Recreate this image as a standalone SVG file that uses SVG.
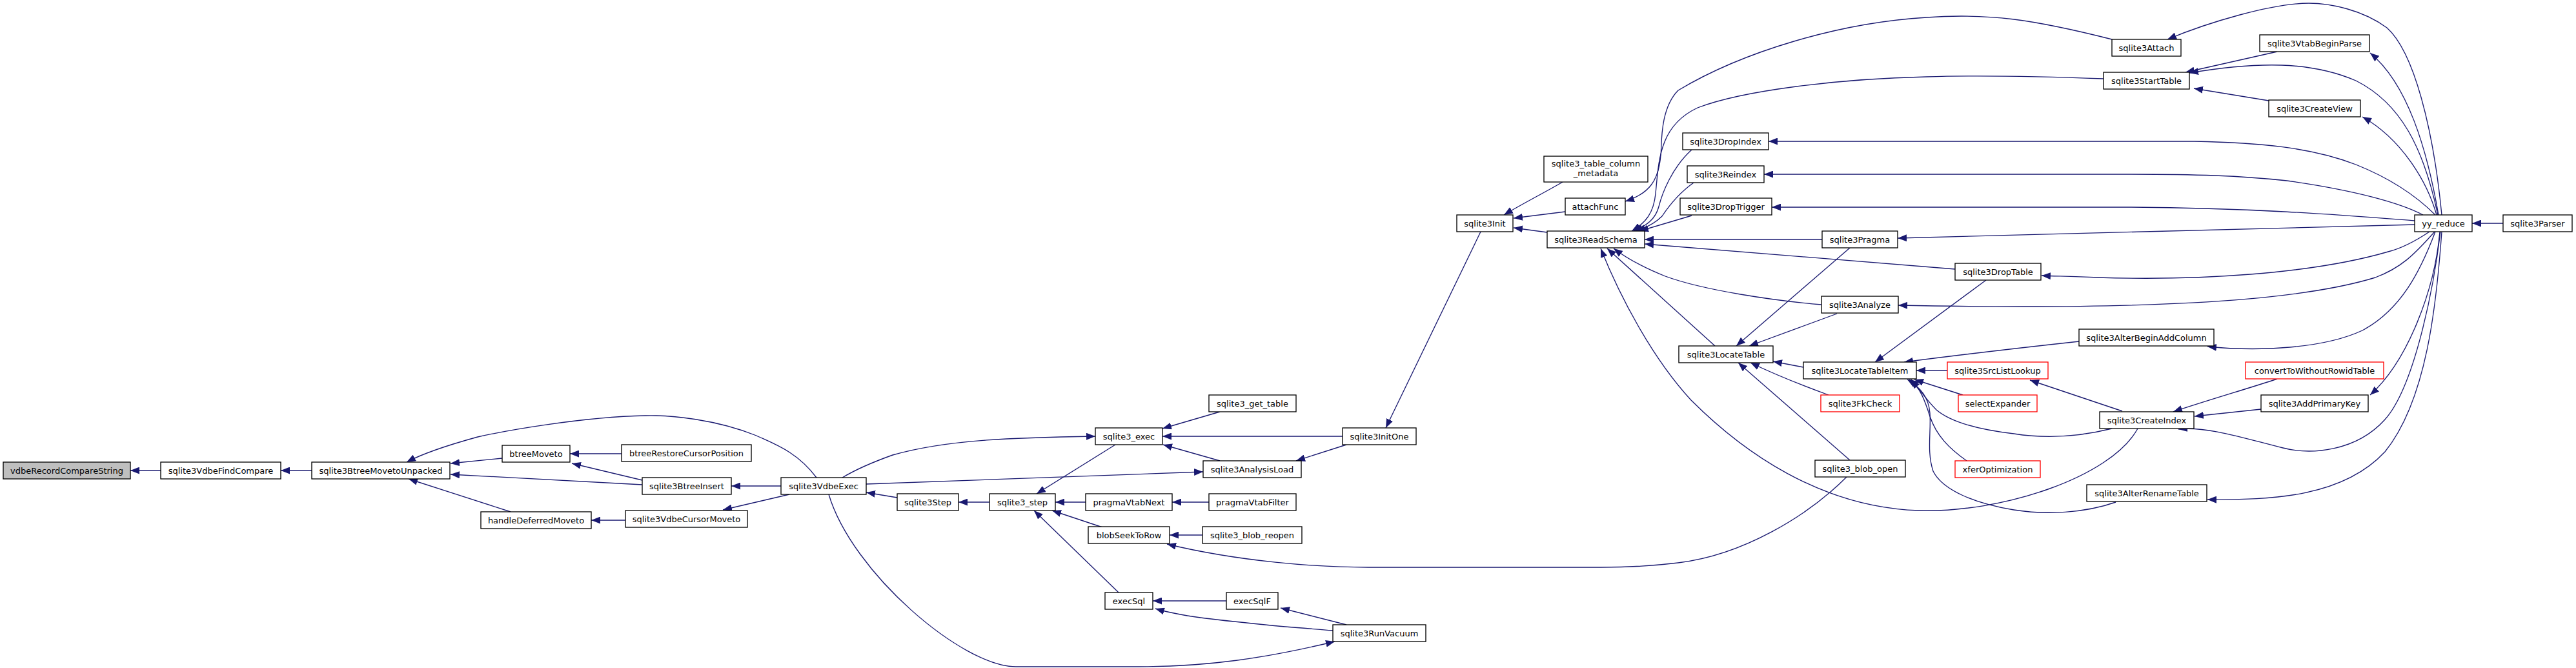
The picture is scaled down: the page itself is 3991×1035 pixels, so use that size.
<svg xmlns="http://www.w3.org/2000/svg" width="3991" height="1035" viewBox="0 0 3991 1035">
<style>
.n rect{fill:#fff;stroke:#000;stroke-width:1.33}
.n.r rect{stroke:#ff0000}
.n.g rect{fill:#bfbfbf}
.n text{font-family:"DejaVu Sans","Liberation Sans",sans-serif;font-size:13px;text-anchor:middle;fill:#000}
.e path{fill:none;stroke:#191970;stroke-width:1.33;marker-end:url(#a)}
</style>
<defs>
<marker id="a" markerUnits="userSpaceOnUse" markerWidth="14" markerHeight="11" refX="14" refY="5.5" orient="auto" viewBox="0 0 14 11"><path d="M0,0 L14,5.5 L0,11 z" fill="#191970"/></marker>
</defs>
<rect width="3991" height="1035" fill="#fff"/>
<g id="edges" class="e">
<path d="M249,729 L202,729"/>
<path d="M483,729 L435,729"/>
<path d="M778,710 L698,718"/>
<path d="M995,751 L698,735"/>
<path d="M791,793 L633,742"/>
<path d="M1265,740 C1235,700 1200,688 1172,675 C1110,650 1040,643 1000,644 C900,646 780,668 740,677 C700,688 660,700 630,716"/>
<path d="M963,703 L883,703"/>
<path d="M995,744 L886,718"/>
<path d="M969,806 L916,806"/>
<path d="M1210,753 L1133,753"/>
<path d="M1223,766 L1120,790"/>
<path d="M1390,771 L1342,763"/>
<path d="M1533,778 L1485,778"/>
<path d="M1305,740 C1330,725 1355,715 1383,705 C1470,680 1580,678 1697,676"/>
<path d="M1342,750 L1864,731"/>
<path d="M1728,689 L1606,765"/>
<path d="M1682,778 L1635,778"/>
<path d="M1708,817 L1630,791"/>
<path d="M1734,919 L1602,791"/>
<path d="M1890,638 L1801,664"/>
<path d="M2080,676 L1801,676"/>
<path d="M1890,714 L1802,689"/>
<path d="M2086,689 L2008,714"/>
<path d="M1873,778 L1816,778"/>
<path d="M1863,829 L1812,829"/>
<path d="M2861,739 C2800,800 2700,860 2600,872 C2560,877 2520,879 2480,879 L2120,879 C2040,879 1920,870 1808,843"/>
<path d="M1900,931 L1786,931"/>
<path d="M2065,977 C2030,974 2000,972 1960,968 C1880,960 1830,955 1790,943"/>
<path d="M2086,968 L1984,942"/>
<path d="M1284,766 C1320,887 1491,1033 1574,1033 L1765,1033 C1870,1033 1960,1020 2068,994"/>
<path d="M2294,359 L2147,663"/>
<path d="M2421,282 C2390,300 2360,315 2330,333"/>
<path d="M2425,328 L2345,338"/>
<path d="M2397,360 L2345,353"/>
<path d="M3272,61 C3150,30 3080,20 2985,27 C2850,35 2700,80 2600,140 C2570,170 2575,230 2573,240 C2570,280 2555,300 2518,312"/>
<path d="M3259,122 C3150,118 3050,117 2985,119 C2850,122 2700,140 2630,167 C2570,195 2570,250 2565,300 C2562,330 2550,345 2528,358"/>
<path d="M2621,232 C2590,260 2575,300 2570,320 C2565,340 2550,350 2531,358"/>
<path d="M2624,283 C2600,300 2585,320 2575,335 C2565,345 2550,353 2535,358"/>
<path d="M2621,334 L2540,358"/>
<path d="M2823,371 L2548,371"/>
<path d="M3029,417 L2548,378"/>
<path d="M2822,472 C2750,466 2640,450 2580,428 C2545,414 2520,400 2500,385"/>
<path d="M2657,536 L2490,385"/>
<path d="M3312,664 C3270,740 3100,795 2973,791 C2820,786 2700,700 2620,620 C2560,555 2510,460 2480,385"/>
<path d="M2794,569 L2747,560"/>
<path d="M2866,384 L2690,536"/>
<path d="M2846,486 L2710,536"/>
<path d="M2833,612 C2800,600 2760,585 2712,562"/>
<path d="M2866,713 L2693,562"/>
<path d="M3077,434 L2905,561"/>
<path d="M3221,529 C3120,540 3050,548 2950,561"/>
<path d="M3017,574 L2969,574"/>
<path d="M3041,612 L2966,588"/>
<path d="M3047,714 C3020,695 3000,675 2990,645 C2982,620 2975,600 2958,588"/>
<path d="M3272,664 C3220,677 3170,680 3120,672 C3060,665 3020,652 3000,635 C2985,620 2975,605 2961,588"/>
<path d="M3278,778 C3230,795 3170,798 3120,790 C3060,780 3010,760 2995,730 C2985,700 2992,670 2990,640 C2988,615 2975,600 2955,588"/>
<path d="M3288,637 L3145,589"/>
<path d="M3528,587 C3490,600 3420,620 3367,638"/>
<path d="M3503,634 L3400,645"/>
<path d="M3781,359 C3770,450 3740,600 3695,650 C3650,700 3580,705 3537,694 C3480,680 3420,660 3375,665"/>
<path d="M3780,359 C3772,450 3730,560 3672,612"/>
<path d="M3783,359 C3775,470 3760,620 3695,700 C3630,770 3520,775 3420,774"/>
<path d="M3773,359 C3750,420 3720,480 3660,512 C3600,540 3500,545 3420,537"/>
<path d="M3772,359 C3740,395 3720,415 3680,430 C3550,470 3300,480 2941,473"/>
<path d="M3764,359 C3740,375 3720,385 3700,390 C3580,425 3400,435 3250,430 C3210,428 3185,428 3163,427"/>
<path d="M3741,348 L2940,369"/>
<path d="M3741,342 C3650,335 3500,322 3300,321 L2745,321"/>
<path d="M3754,333 C3720,315 3650,295 3543,280 C3470,272 3400,270 3300,270 L2733,270"/>
<path d="M3773,333 C3740,300 3700,275 3650,255 C3580,228 3500,221 3400,219 L2740,219"/>
<path d="M3775,333 C3760,280 3720,215 3660,181"/>
<path d="M3778,333 C3760,230 3730,130 3672,82"/>
<path d="M3777,333 C3755,230 3720,160 3650,125 C3580,95 3500,95 3392,113"/>
<path d="M3528,80 L3386,112"/>
<path d="M3515,156 L3399,137"/>
<path d="M3783,333 C3770,200 3740,80 3698,43 C3660,15 3610,5 3577,5 C3520,5 3420,35 3358,61"/>
<path d="M3878,346 L3830,346"/>
</g>
<g id="vdbeRecordCompareString" class="n g"><rect x="5" y="716" width="197" height="26"/><text x="103.5" y="733.5">vdbeRecordCompareString</text></g>
<g id="sqlite3VdbeFindCompare" class="n"><rect x="249" y="716" width="186" height="26"/><text x="342" y="733.5">sqlite3VdbeFindCompare</text></g>
<g id="sqlite3BtreeMovetoUnpacked" class="n"><rect x="483" y="716" width="214" height="26"/><text x="590" y="733.5">sqlite3BtreeMovetoUnpacked</text></g>
<g id="btreeMoveto" class="n"><rect x="778" y="690" width="105" height="26"/><text x="830.5" y="707.5">btreeMoveto</text></g>
<g id="handleDeferredMoveto" class="n"><rect x="745" y="793" width="171" height="26"/><text x="830.5" y="810.5">handleDeferredMoveto</text></g>
<g id="btreeRestoreCursorPosition" class="n"><rect x="963" y="689" width="201" height="26"/><text x="1063.5" y="706.5">btreeRestoreCursorPosition</text></g>
<g id="sqlite3BtreeInsert" class="n"><rect x="995" y="740" width="138" height="26"/><text x="1064" y="757.5">sqlite3BtreeInsert</text></g>
<g id="sqlite3VdbeCursorMoveto" class="n"><rect x="969" y="791" width="189" height="26"/><text x="1063.5" y="808.5">sqlite3VdbeCursorMoveto</text></g>
<g id="sqlite3VdbeExec" class="n"><rect x="1210" y="740" width="132" height="26"/><text x="1276" y="757.5">sqlite3VdbeExec</text></g>
<g id="sqlite3Step" class="n"><rect x="1390" y="765" width="95" height="26"/><text x="1437.5" y="782.5">sqlite3Step</text></g>
<g id="sqlite3_step" class="n"><rect x="1533" y="765" width="102" height="26"/><text x="1584" y="782.5">sqlite3_step</text></g>
<g id="sqlite3_exec" class="n"><rect x="1697" y="663" width="104" height="26"/><text x="1749" y="680.5">sqlite3_exec</text></g>
<g id="sqlite3_get_table" class="n"><rect x="1873" y="612" width="135" height="26"/><text x="1940.5" y="629.5">sqlite3_get_table</text></g>
<g id="sqlite3AnalysisLoad" class="n"><rect x="1864" y="714" width="152" height="26"/><text x="1940" y="731.5">sqlite3AnalysisLoad</text></g>
<g id="pragmaVtabNext" class="n"><rect x="1682" y="765" width="134" height="26"/><text x="1749" y="782.5">pragmaVtabNext</text></g>
<g id="pragmaVtabFilter" class="n"><rect x="1873" y="765" width="135" height="26"/><text x="1940.5" y="782.5">pragmaVtabFilter</text></g>
<g id="blobSeekToRow" class="n"><rect x="1686" y="816" width="126" height="26"/><text x="1749" y="833.5">blobSeekToRow</text></g>
<g id="sqlite3_blob_reopen" class="n"><rect x="1863" y="816" width="154" height="26"/><text x="1940" y="833.5">sqlite3_blob_reopen</text></g>
<g id="execSql" class="n"><rect x="1712" y="918" width="74" height="26"/><text x="1749" y="935.5">execSql</text></g>
<g id="execSqlF" class="n"><rect x="1900" y="918" width="80" height="26"/><text x="1940" y="935.5">execSqlF</text></g>
<g id="sqlite3RunVacuum" class="n"><rect x="2065" y="968" width="144" height="26"/><text x="2137" y="985.5">sqlite3RunVacuum</text></g>
<g id="sqlite3InitOne" class="n"><rect x="2080" y="663" width="114" height="26"/><text x="2137" y="680.5">sqlite3InitOne</text></g>
<g id="sqlite3Init" class="n"><rect x="2257" y="333" width="87" height="26"/><text x="2300.5" y="350.5">sqlite3Init</text></g>
<g id="sqlite3_table_column_metadata" class="n"><rect x="2392" y="242" width="161" height="40"/><text x="2472.5" y="258">sqlite3_table_column</text><text x="2472.5" y="273">_metadata</text></g>
<g id="attachFunc" class="n"><rect x="2425" y="307" width="93" height="26"/><text x="2471.5" y="324.5">attachFunc</text></g>
<g id="sqlite3ReadSchema" class="n"><rect x="2397" y="358" width="151" height="26"/><text x="2472.5" y="375.5">sqlite3ReadSchema</text></g>
<g id="sqlite3Attach" class="n"><rect x="3272" y="61" width="107" height="26"/><text x="3325.5" y="78.5">sqlite3Attach</text></g>
<g id="sqlite3StartTable" class="n"><rect x="3259" y="112" width="133" height="26"/><text x="3325.5" y="129.5">sqlite3StartTable</text></g>
<g id="sqlite3DropIndex" class="n"><rect x="2607" y="206" width="133" height="26"/><text x="2673.5" y="223.5">sqlite3DropIndex</text></g>
<g id="sqlite3Reindex" class="n"><rect x="2614" y="257" width="119" height="26"/><text x="2673.5" y="274.5">sqlite3Reindex</text></g>
<g id="sqlite3DropTrigger" class="n"><rect x="2603" y="307" width="142" height="26"/><text x="2674" y="324.5">sqlite3DropTrigger</text></g>
<g id="sqlite3Pragma" class="n"><rect x="2823" y="358" width="117" height="26"/><text x="2881.5" y="375.5">sqlite3Pragma</text></g>
<g id="sqlite3DropTable" class="n"><rect x="3029" y="408" width="133" height="26"/><text x="3095.5" y="425.5">sqlite3DropTable</text></g>
<g id="sqlite3Analyze" class="n"><rect x="2822" y="459" width="119" height="26"/><text x="2881.5" y="476.5">sqlite3Analyze</text></g>
<g id="sqlite3LocateTable" class="n"><rect x="2601" y="536" width="146" height="26"/><text x="2674" y="553.5">sqlite3LocateTable</text></g>
<g id="sqlite3LocateTableItem" class="n"><rect x="2794" y="561" width="175" height="26"/><text x="2881.5" y="578.5">sqlite3LocateTableItem</text></g>
<g id="sqlite3FkCheck" class="n r"><rect x="2821" y="612" width="122" height="26"/><text x="2882" y="629.5">sqlite3FkCheck</text></g>
<g id="sqlite3_blob_open" class="n"><rect x="2812" y="713" width="140" height="26"/><text x="2882" y="730.5">sqlite3_blob_open</text></g>
<g id="sqlite3AlterBeginAddColumn" class="n"><rect x="3221" y="510" width="209" height="26"/><text x="3325.5" y="527.5">sqlite3AlterBeginAddColumn</text></g>
<g id="sqlite3SrcListLookup" class="n r"><rect x="3017" y="561" width="156" height="26"/><text x="3095" y="578.5">sqlite3SrcListLookup</text></g>
<g id="selectExpander" class="n r"><rect x="3034" y="612" width="122" height="26"/><text x="3095" y="629.5">selectExpander</text></g>
<g id="xferOptimization" class="n r"><rect x="3029" y="714" width="132" height="26"/><text x="3095" y="731.5">xferOptimization</text></g>
<g id="sqlite3CreateIndex" class="n"><rect x="3253" y="638" width="146" height="26"/><text x="3326" y="655.5">sqlite3CreateIndex</text></g>
<g id="sqlite3AlterRenameTable" class="n"><rect x="3233" y="751" width="186" height="26"/><text x="3326" y="768.5">sqlite3AlterRenameTable</text></g>
<g id="convertToWithoutRowidTable" class="n r"><rect x="3479" y="561" width="214" height="26"/><text x="3586" y="578.5">convertToWithoutRowidTable</text></g>
<g id="sqlite3AddPrimaryKey" class="n"><rect x="3503" y="612" width="166" height="26"/><text x="3586" y="629.5">sqlite3AddPrimaryKey</text></g>
<g id="sqlite3VtabBeginParse" class="n"><rect x="3501" y="54" width="170" height="26"/><text x="3586" y="71.5">sqlite3VtabBeginParse</text></g>
<g id="sqlite3CreateView" class="n"><rect x="3515" y="155" width="142" height="26"/><text x="3586" y="172.5">sqlite3CreateView</text></g>
<g id="yy_reduce" class="n"><rect x="3741" y="333" width="89" height="26"/><text x="3785.5" y="350.5">yy_reduce</text></g>
<g id="sqlite3Parser" class="n"><rect x="3878" y="333" width="107" height="26"/><text x="3931.5" y="350.5">sqlite3Parser</text></g>
</svg>
